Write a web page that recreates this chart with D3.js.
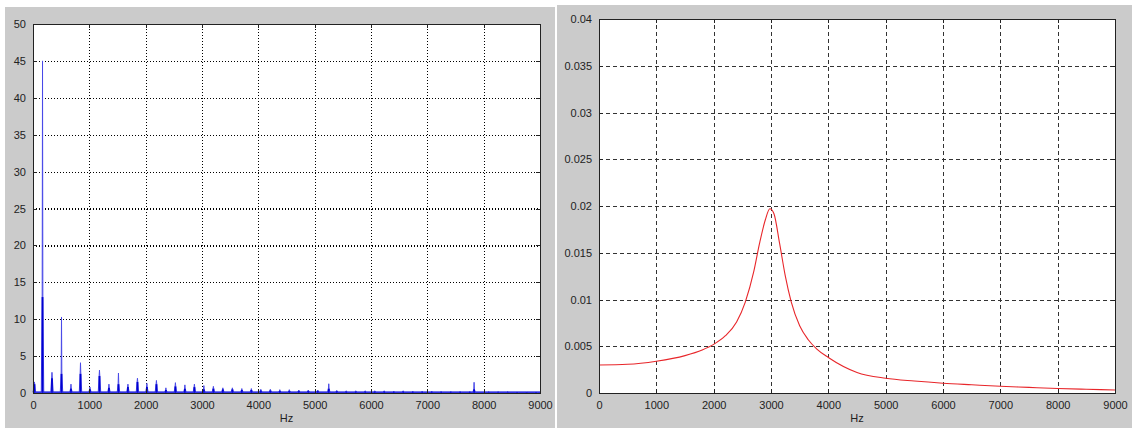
<!DOCTYPE html>
<html>
<head>
<meta charset="utf-8">
<script src="https://cdn.jsdelivr.net/npm/d3@7"></script>
<style>
  body { margin: 0; background: #ffffff; }
  .tick text { font-family: "Liberation Sans", Arial, sans-serif; font-size: 11px; fill: #222; }
  .lbl { font-family: "Liberation Sans", Arial, sans-serif; font-size: 11px; fill: #222; }
</style>
</head>
<body>
<svg id="svg1" width="1132" height="428"></svg>
<script>
// x ticks shared by both plots
var hzTicks = [0, 1000, 2000, 3000, 4000, 5000, 6000, 7000, 8000, 9000];
var leftYTicks = [0, 5, 10, 15, 20, 25, 30, 35, 40, 45, 50];
var rightYTicks = [0, 0.005, 0.01, 0.015, 0.02, 0.025, 0.03, 0.035, 0.04];

// left plot: spectrum peaks (Hz, peak height, height of the dark lower part)
var peakHz   = [25, 169, 337, 506, 674, 843, 1011, 1180, 1348, 1517, 1685, 1854, 2022, 2191, 2359, 2528, 2696, 2865, 3033, 3202, 3370, 3539, 3707, 3876, 4044, 4213, 4381, 4550, 4718, 4887, 5055, 5250, 5392, 5561, 5729, 5898, 6066, 6235, 6403, 6572, 6740, 6909, 7077, 7246, 7414, 7583, 7751, 7830, 8088, 8257, 8425, 8594, 8762, 8931];
var peakAmp  = [1.5, 45, 2.8, 10.3, 1.2, 4.1, 0.8, 3.1, 1.2, 2.7, 1.2, 2.0, 1.3, 1.7, 0.7, 1.4, 1.1, 1.2, 1.0, 0.9, 0.7, 0.7, 0.6, 0.6, 0.5, 0.5, 0.45, 0.45, 0.4, 0.4, 0.4, 1.25, 0.35, 0.3, 0.3, 0.3, 0.3, 0.3, 0.25, 0.3, 0.25, 0.25, 0.25, 0.2, 0.2, 0.2, 0.2, 1.45, 0.2, 0.2, 0.2, 0.15, 0.15, 0.15];
var peakLow  = [1.2, 13, 2.0, 2.6, 0.6, 2.6, 0.5, 2.3, 0.7, 1.2, 0.8, 1.5, 0.8, 1.2, 0.4, 0.9, 0.6, 0.8, 0.5, 0.6, 0.5, 0.5, 0.4, 0.4, 0.35, 0.35, 0.3, 0.3, 0.3, 0.3, 0.3, 0.6, 0.25, 0.2, 0.2, 0.2, 0.2, 0.2, 0.15, 0.2, 0.15, 0.15, 0.15, 0.15, 0.15, 0.15, 0.15, 0.5, 0.1, 0.1, 0.1, 0.1, 0.1, 0.1];

// right plot: response curve
var curveHz  = [0, 500, 1000, 1500, 1800, 2000, 2200, 2400, 2550, 2700, 2800, 2900, 2980, 3050, 3150, 3250, 3350, 3500, 3650, 3800, 4000, 4500, 5000, 5500, 6000, 6500, 7000, 7500, 8000, 8500, 9000];
var curveVal = [0.0030, 0.00307, 0.0034, 0.0040, 0.0046, 0.0052, 0.0061, 0.0076, 0.0097, 0.0130, 0.0160, 0.0185, 0.0197, 0.0192, 0.0160, 0.0125, 0.0098, 0.0072, 0.0057, 0.0047, 0.0038, 0.0022, 0.00158, 0.00128, 0.00105, 0.00088, 0.00072, 0.0006, 0.00048, 0.0004, 0.00032];

const svg = d3.select("#svg1");

// grey figure backgrounds
svg.append("rect").attr("x", 5).attr("y", 7).attr("width", 550).attr("height", 421).attr("fill", "#cbcbcb");
svg.append("rect").attr("x", 557).attr("y", 5).attr("width", 575).attr("height", 423).attr("fill", "#cbcbcb");

function drawAxes(box, yDomain, yTicks, gridDash, gridColor, gridWidth) {
  const width  = box.right - box.left,
        height = box.bottom - box.top,
        x = d3.scaleLinear().domain([0, 9000]).range([0, width]),
        y = d3.scaleLinear().domain(yDomain).range([height, 0]),
        g = svg.append("g").attr("transform", `translate(${box.left},${box.top})`);

  g.append("rect").attr("width", width).attr("height", height).attr("fill", "#ffffff");

  // grid
  g.append("g")
      .attr("class", "grid")
      .attr("transform", `translate(0,${height})`)
      .call(d3.axisBottom(x).tickValues(hzTicks.slice(1, -1)).tickSize(-height).tickFormat(""));
  g.append("g")
      .attr("class", "grid")
      .call(d3.axisLeft(y).tickValues(yTicks.slice(1, -1)).tickSize(-width).tickFormat(""));
  g.selectAll(".grid .domain").remove();
  g.selectAll(".grid line")
      .attr("stroke", gridColor)
      .attr("stroke-width", gridWidth)
      .attr("stroke-dasharray", gridDash)
      .attr("shape-rendering", "crispEdges");

  return {g: g, x: x, y: y, width: width, height: height};
}

function drawFrame(p, yTicks, yFmt) {
  const g = p.g;
  g.append("g")
      .attr("class", "frame")
      .attr("transform", `translate(0,${p.height})`)
      .call(d3.axisBottom(p.x).tickValues(hzTicks).tickSize(-4).tickPadding(8).tickFormat(d3.format("d")));
  g.append("g")
      .attr("class", "frame")
      .call(d3.axisTop(p.x).tickValues(hzTicks).tickSize(-4).tickFormat(""));
  g.append("g")
      .attr("class", "frame")
      .call(d3.axisLeft(p.y).tickValues(yTicks).tickSize(-4).tickPadding(7).tickFormat(yFmt));
  g.append("g")
      .attr("class", "frame")
      .attr("transform", `translate(${p.width},0)`)
      .call(d3.axisRight(p.y).tickValues(yTicks).tickSize(-4).tickFormat(""));
  g.selectAll(".frame .domain").attr("stroke", "#222").attr("shape-rendering", "crispEdges");
  g.selectAll(".frame .tick line").attr("stroke", "#222").attr("shape-rendering", "crispEdges");
  g.append("text")
      .attr("class", "lbl")
      .attr("x", p.width / 2)
      .attr("y", p.height + 29)
      .attr("text-anchor", "middle")
      .text("Hz");
}

// ---- left: spectrum ----
const left = drawAxes({left: 33, right: 540, top: 24, bottom: 393}, [0, 50], leftYTicks, "1,2", "#000", 1.2);

var specPts = [[0, 0.2]];
peakHz.forEach((f, i) => {
  specPts.push([f - 22, 0.1], [f - 6, peakLow[i]], [f, peakAmp[i]], [f + 6, peakLow[i]], [f + 22, 0.1]);
});
specPts.push([9000, 0.1]);

const specLine = d3.line().x(d => left.x(d[0])).y(d => left.y(d[1]));
left.g.append("path")
    .attr("d", specLine(specPts.filter(d => d[0] >= 0 && d[0] <= 9000)))
    .attr("fill", "none")
    .attr("stroke", "#4a4ae8")
    .attr("stroke-width", 1);

// darker lower part of each peak
left.g.selectAll(".low")
  .data(peakHz)
  .enter().append("line")
    .attr("class", "low")
    .attr("x1", d => left.x(d))
    .attr("x2", d => left.x(d))
    .attr("y1", left.y(0))
    .attr("y2", (d, i) => left.y(peakLow[i]))
    .attr("stroke", "#0000d0")
    .attr("stroke-width", 1.8);

// baseline
left.g.append("line")
    .attr("x1", 0).attr("x2", left.width)
    .attr("y1", left.y(0.12)).attr("y2", left.y(0.12))
    .attr("stroke", "#1a1ae0").attr("stroke-width", 1.4);

drawFrame(left, leftYTicks, d3.format("d"));

// ---- right: response curve ----
const right = drawAxes({left: 599, right: 1115, top: 19, bottom: 393}, [0, 0.04], rightYTicks, "4,3", "#333", 1);

const curveLine = d3.line()
    .x((d, i) => right.x(curveHz[i]))
    .y(d => right.y(d))
    .curve(d3.curveMonotoneX);
right.g.append("path")
    .attr("d", curveLine(curveVal))
    .attr("fill", "none")
    .attr("stroke", "#e8262a")
    .attr("stroke-width", 1.1);

drawFrame(right, rightYTicks, d => d === 0 ? "0" : d3.format("~g")(d));
</script>
</body>
</html>
